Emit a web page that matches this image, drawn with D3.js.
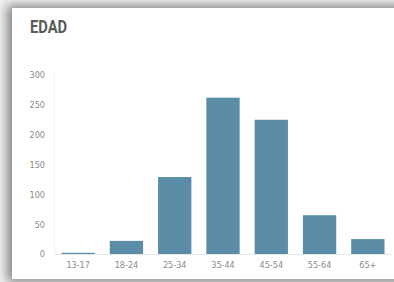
<!DOCTYPE html>
<html><head><meta charset="utf-8">
<script src="https://cdn.jsdelivr.net/npm/d3@7"></script>
<style>
html,body{margin:0;padding:0;width:394px;height:282px;overflow:hidden;background:#f2f2f2;}
#card{position:absolute;left:12px;top:8px;width:400px;height:271px;background:#fff;box-shadow:-2px 0 10px 3px rgba(0,0,0,0.45);}
svg{position:absolute;left:0;top:0;}
</style></head><body>
<div id="card"></div>
<svg id="chart" width="394" height="282"></svg>
<script>
const title = "EDAD";
const categories = ["13-17","18-24","25-34","35-44","45-54","55-64","65+"];
const values = [2, 22, 129, 262, 225, 65, 25];
const yTicks = [0, 50, 100, 150, 200, 250, 300];

const svg = d3.select("#chart");
const x = d3.scaleBand().domain(categories).range([54, 392]).paddingInner(0.31).paddingOuter(0.155);
const y = d3.scaleLinear().domain([0, 300]).range([254, 75]);

svg.append("text").attr("transform", "translate(30,33) scale(0.82,1)").text(title)
  .attr("font-family", "Roboto,Arial,sans-serif")
  .attr("font-weight", "bold").attr("font-size", 18).attr("fill", "#5a5a5a");

svg.append("line").attr("x1", 54.5).attr("x2", 54.5).attr("y1", 72).attr("y2", 254)
  .attr("stroke", "#f0f0f0").attr("stroke-width", 1);

const yAxis = d3.axisLeft(y).tickValues(yTicks).tickSize(0).tickPadding(0);
const gy = svg.append("g").attr("transform", "translate(45,0)").call(yAxis);
gy.select(".domain").remove();
gy.selectAll("text").attr("font-family", "'DejaVu Sans Condensed',sans-serif")
  .attr("font-size", 9).attr("fill", "#8a8a8a");

svg.selectAll("rect.bar").data(values).join("rect").attr("class", "bar")
  .attr("x", (d, i) => x(categories[i]))
  .attr("width", x.bandwidth())
  .attr("y", d => y(d))
  .attr("height", d => y(0) - y(d))
  .attr("fill", "#5b8da8");

svg.append("line").attr("x1", 54).attr("x2", 392).attr("y1", 254.5).attr("y2", 254.5)
  .attr("stroke", "#e6e6e6").attr("stroke-width", 1);

const xAxis = d3.axisBottom(x).tickSize(0).tickPadding(0);
const gx = svg.append("g").attr("transform", "translate(0,262)").call(xAxis);
gx.select(".domain").remove();
gx.selectAll("text").attr("font-family", "'DejaVu Sans Condensed',sans-serif")
  .attr("font-size", 9).attr("fill", "#8a8a8a");
</script>
</body></html>
